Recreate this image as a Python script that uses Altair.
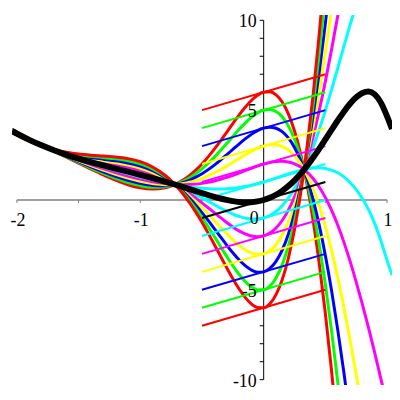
import altair as alt
import pandas as pd

# sample abscissas
X = [-2.04, -2.0, -1.9, -1.8, -1.7, -1.6, -1.5, -1.4, -1.3, -1.2,
     -1.1, -1.0, -0.9, -0.8, -0.75, -0.7, -0.65, -0.6, -0.55, -0.5,
     -0.45, -0.4, -0.35, -0.3, -0.25, -0.2, -0.15, -0.1, -0.05, 0.0,
     0.05, 0.1, 0.15, 0.2, 0.25, 0.3, 0.35, 0.4, 0.45, 0.5,
     0.55, 0.6, 0.65, 0.7, 0.75, 0.8, 0.85, 0.9, 0.95, 1.0, 1.04]

# thick black curve
BLACK_Y = [3.841, 3.692, 3.348, 3.041, 2.767, 2.522, 2.303, 2.104, 1.921, 1.748,
           1.577, 1.404, 1.222, 1.028, 0.926, 0.821, 0.713, 0.603, 0.493, 0.383,
           0.277, 0.176, 0.083, 0.003, -0.062, -0.108, -0.129, -0.121, -0.079, 0.0,
           0.122, 0.290, 0.508, 0.776, 1.097, 1.469, 1.889, 2.352, 2.849, 3.371,
           3.902, 4.424, 4.917, 5.356, 5.712, 5.954, 6.040, 5.880, 5.420, 4.650, 3.950]

# spread of the coloured curves away from the black one, per unit of starting value
UNIT_SPREAD = [0.0149, 0.0142, 0.0105, 0.0033, -0.0080, -0.0235, -0.0429, -0.0652, -0.0880, -0.1081,
               -0.1211, -0.1212, -0.1024, -0.0580, -0.0244, 0.0174, 0.0679, 0.1271, 0.1949, 0.2707,
               0.3535, 0.4420, 0.5343, 0.6277, 0.7194, 0.8055, 0.8818, 0.9434, 0.9848, 1.0,
               0.9828, 0.9262, 0.8240, 0.6697, 0.4572, 0.1811, -0.1625, -0.5762, -1.0613, -1.6155,
               -2.2345, -2.9098, -3.6308, -4.3808, -5.1400, -5.8827, -6.5791, -7.1930, -7.6861, -8.0104, -8.1189]

# starting values at x = 0 and their colours
LEVELS = [6, 5, 4, 3, 2, 1, -1, -2, -3, -4, -5, -6]
LEVEL_COLORS = {6: "#FF0000", 5: "#00FF00", 4: "#0000FF", 3: "#FFFF00", 2: "#FF00FF", 1: "#00FFFF"}
LINE_X = [-0.5, 0.5]
LINE_SLOPE = 2.0

X_TICKS = [-2, -1.5, -1, -0.5, 0.5, 1]
X_LABELS = [-2, -1, 1]
Y_TICKS = [k for k in range(-10, 11) if k != 0]
Y_LABELS = [-10, -5, 5, 10]

xs = alt.Scale(domain=[-2.04, 1.04], nice=False, zero=False)
ys = alt.Scale(domain=[-10.3, 10.3], nice=False, zero=False)
X_ENC = alt.X("x:Q", scale=xs, axis=None)
Y_ENC = alt.Y("y:Q", scale=ys, axis=None)

def color_of(c):
    return "#000000" if c == 0 else LEVEL_COLORS[abs(c)]

layers = []

# coloured solution curves
for c in LEVELS:
    df = pd.DataFrame({"x": X, "y": [b + c * g for b, g in zip(BLACK_Y, UNIT_SPREAD)]})
    layers.append(alt.Chart(df).mark_line(color=color_of(c), strokeWidth=3, clip=True,
                                          interpolate="monotone").encode(x=X_ENC, y=Y_ENC))

# slope lines through (0, c)
for c in LEVELS + [0]:
    df = pd.DataFrame({"x": LINE_X, "y": [c + LINE_SLOPE * x for x in LINE_X]})
    layers.append(alt.Chart(df).mark_line(color=color_of(c), strokeWidth=2, clip=True).encode(x=X_ENC, y=Y_ENC))

# thick black curve
bdf = pd.DataFrame({"x": X, "y": BLACK_Y})
layers.append(alt.Chart(bdf).mark_line(color="#000000", strokeWidth=6, clip=True,
                                       interpolate="monotone").encode(x=X_ENC, y=Y_ENC))

# axes
xaxis = alt.Chart(pd.DataFrame({"x": [-2], "x2": [1], "y": [0]})).mark_rule(
    color="#808080", strokeWidth=1.7).encode(x=X_ENC, x2="x2:Q", y=Y_ENC)
yaxis = alt.Chart(pd.DataFrame({"x": [0], "y": [-10], "y2": [10]})).mark_rule(
    color="#000000", strokeWidth=1).encode(x=X_ENC, y=Y_ENC, y2="y2:Q")
xt = alt.Chart(pd.DataFrame({"x": X_TICKS, "y": [0] * len(X_TICKS)})).mark_rule(
    color="#808080", strokeWidth=1, y2Offset=3).encode(x=X_ENC, y=Y_ENC, y2="y:Q")
yt = alt.Chart(pd.DataFrame({"x": [0] * len(Y_TICKS), "y": Y_TICKS})).mark_rule(
    color="#000000", strokeWidth=1, x2Offset=-4).encode(x=X_ENC, x2="x:Q", y=Y_ENC)

FONT = "Liberation Serif"
xl = alt.Chart(pd.DataFrame({"x": X_LABELS, "y": [0] * len(X_LABELS),
                             "t": [str(v) for v in X_LABELS]})).mark_text(
    font=FONT, fontSize=18, align="center", baseline="alphabetic", dy=26, dx=1, color="#000000"
).encode(x=X_ENC, y=Y_ENC, text="t:N")
zl = alt.Chart(pd.DataFrame({"x": [0], "y": [0], "t": ["0"]})).mark_text(
    font=FONT, fontSize=18, align="right", baseline="alphabetic", dy=24, dx=-5, color="#000000"
).encode(x=X_ENC, y=Y_ENC, text="t:N")
yl = alt.Chart(pd.DataFrame({"x": [0] * len(Y_LABELS), "y": Y_LABELS,
                             "t": [str(v) for v in Y_LABELS]})).mark_text(
    font=FONT, fontSize=18, align="right", baseline="alphabetic", dy=7, dx=-7, color="#000000"
).encode(x=X_ENC, y=Y_ENC, text="t:N")

chart = alt.layer(xaxis, yaxis, xt, yt, *layers, xl, zl, yl).properties(
    width=383, height=373,
    padding={"left": 4, "top": 5.5, "right": 0, "bottom": 3},
    autosize=alt.AutoSizeParams(type="none"),
).configure_view(stroke=None)

chart.save("out.html", embed_options={"renderer": "svg", "actions": False})
